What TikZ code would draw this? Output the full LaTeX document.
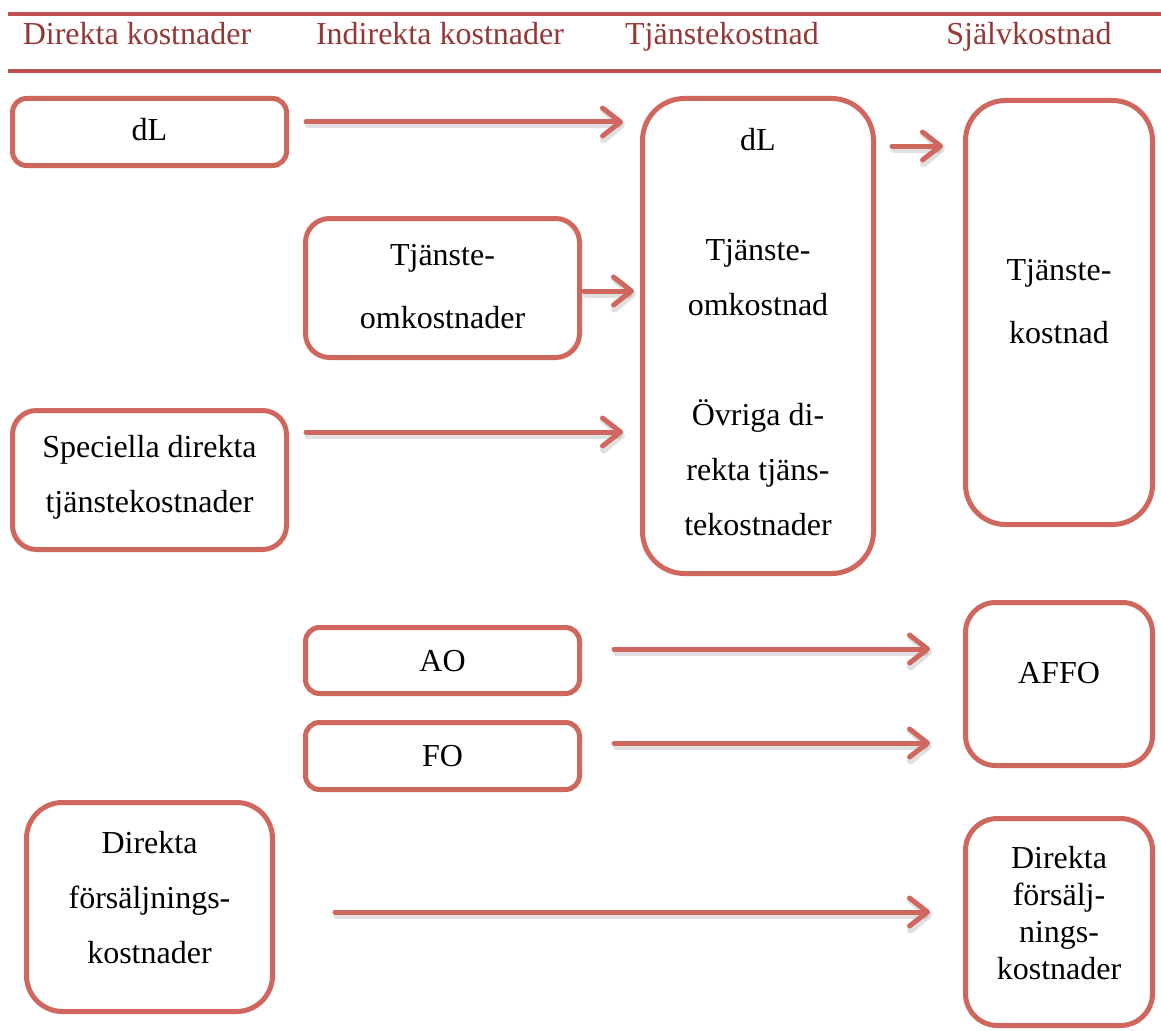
\documentclass[tikz,border=0pt]{standalone}
\usepackage{fontspec}
\setmainfont{Liberation Serif}
\usetikzlibrary{arrows.meta}
\definecolor{boxc}{RGB}{208,103,95}
\definecolor{headc}{RGB}{149,55,53}
\definecolor{rulec}{RGB}{192,80,77}
\newcommand\mlines[1]{\vtop{\halign{\hfil##\hfil\cr#1\crcr}}}
\begin{document}
\begin{tikzpicture}[x=1pt,y=-1pt,
  box/.style n args={3}{draw=boxc,line width=5pt,rounded corners=#3,
    minimum width=#1,minimum height=#2,inner sep=0pt},
  txt/.style={anchor=base,inner sep=0pt,font=\fontsize{32}{#1}\selectfont},
  txt/.default=55,
  head/.style={anchor=base,inner sep=0pt,text=headc,font=\fontsize{32}{38}\selectfont},
  rulel/.style={draw=rulec,line width=3.5pt},
  arr/.style={draw=boxc,line width=5pt,line cap=round,
    -{Straight Barb[length=18pt,width=28pt,round]}},
  arrsh/.style={draw=black,opacity=0.12,line width=7pt,line cap=round,
    transform canvas={xshift=2pt,yshift=-3pt},
    -{Straight Barb[length=18pt,width=30pt,round]}}
]
\useasboundingbox[fill=white] (0,0) rectangle (1161,1030);

% header
\draw[rulel] (8,14) -- (1161,14);
\draw[rulel] (8,71) -- (1161,71);
\node[head] (h1) at (137,45) {Direkta kostnader};
\node[head] (h2) at (440,45) {Indirekta kostnader};
\node[head] (h3) at (722,45) {Tjänstekostnad};
\node[head] (h4) at (1029,45) {Självkostnad};

% boxes
\node[box={274pt}{67pt}{14pt}]  (b1)  at (149.5,132) {};
\node[box={274pt}{139pt}{24pt}] (b2)  at (442.5,288) {};
\node[box={274pt}{139pt}{24pt}] (b3)  at (149.5,480) {};
\node[box={231pt}{475pt}{42pt}] (b4)  at (758,336) {};
\node[box={187pt}{424pt}{40pt}] (b5)  at (1059,312.5) {};
\node[box={274pt}{66pt}{14pt}]  (b6)  at (442.5,660.5) {};
\node[box={274pt}{67pt}{14pt}]  (b7)  at (442.5,756) {};
\node[box={187pt}{163pt}{30pt}] (b8)  at (1059,684) {};
\node[box={246pt}{209pt}{36pt}] (b9)  at (149.5,907) {};
\node[box={187pt}{207pt}{32pt}] (b10) at (1059,922) {};

% texts
\node[txt] (t1) at (149.5,140) {dL};
\node[txt=63] (t2) at (442.5,265) {\mlines{Tjänste-\cr omkostnader}};
\node[txt] (t3) at (149.5,457) {\mlines{Speciella direkta\cr tjänstekostnader}};
\node[txt] (t4) at (758,150) {\mlines{dL\cr\cr Tjänste-\cr omkostnad\cr\cr Övriga di-\cr rekta tjäns-\cr tekostnader}};
\node[txt=63] (t5) at (1059,280) {\mlines{Tjänste-\cr kostnad}};
\node[txt] (t6) at (442.5,671) {AO};
\node[txt] (t7) at (442.5,766) {FO};
\node[txt] (t8) at (1059,683) {AFFO};
\node[txt] (t9) at (149.5,853) {\mlines{Direkta\cr försäljnings-\cr kostnader}};
\node[txt=37] (t10) at (1059,868) {\mlines{Direkta\cr försälj-\cr nings-\cr kostnader}};

% arrow shadows
\draw[arrsh,shorten <=17pt,shorten >=17pt] (b1.east |- 0,122) -- (b4.west |- 0,122);
\draw[arrsh,shorten <=16pt,shorten >=20pt] (b4.east |- 0,146) -- (b5.west |- 0,146);
\draw[arrsh,shorten <=2pt,shorten >=6pt] (b2.east |- 0,291) -- (b4.west |- 0,291);
\draw[arrsh,shorten <=17pt,shorten >=17pt] (b3.east |- 0,432) -- (b4.west |- 0,432);
\draw[arrsh,shorten <=32pt,shorten >=33pt] (b6.east |- 0,649) -- (b8.west |- 0,649);
\draw[arrsh,shorten <=32pt,shorten >=33pt] (b7.east |- 0,743) -- (b8.west |- 0,743);
\draw[arrsh,shorten <=60pt,shorten >=33pt] (b9.east |- 0,912) -- (b10.west |- 0,912);

% arrows
\draw[arr,shorten <=17pt,shorten >=17pt] (b1.east |- 0,122) -- (b4.west |- 0,122);
\draw[arr,shorten <=16pt,shorten >=20pt] (b4.east |- 0,146) -- (b5.west |- 0,146);
\draw[arr,shorten <=2pt,shorten >=6pt] (b2.east |- 0,291) -- (b4.west |- 0,291);
\draw[arr,shorten <=17pt,shorten >=17pt] (b3.east |- 0,432) -- (b4.west |- 0,432);
\draw[arr,shorten <=32pt,shorten >=33pt] (b6.east |- 0,649) -- (b8.west |- 0,649);
\draw[arr,shorten <=32pt,shorten >=33pt] (b7.east |- 0,743) -- (b8.west |- 0,743);
\draw[arr,shorten <=60pt,shorten >=33pt] (b9.east |- 0,912) -- (b10.west |- 0,912);
\end{tikzpicture}
\end{document}
